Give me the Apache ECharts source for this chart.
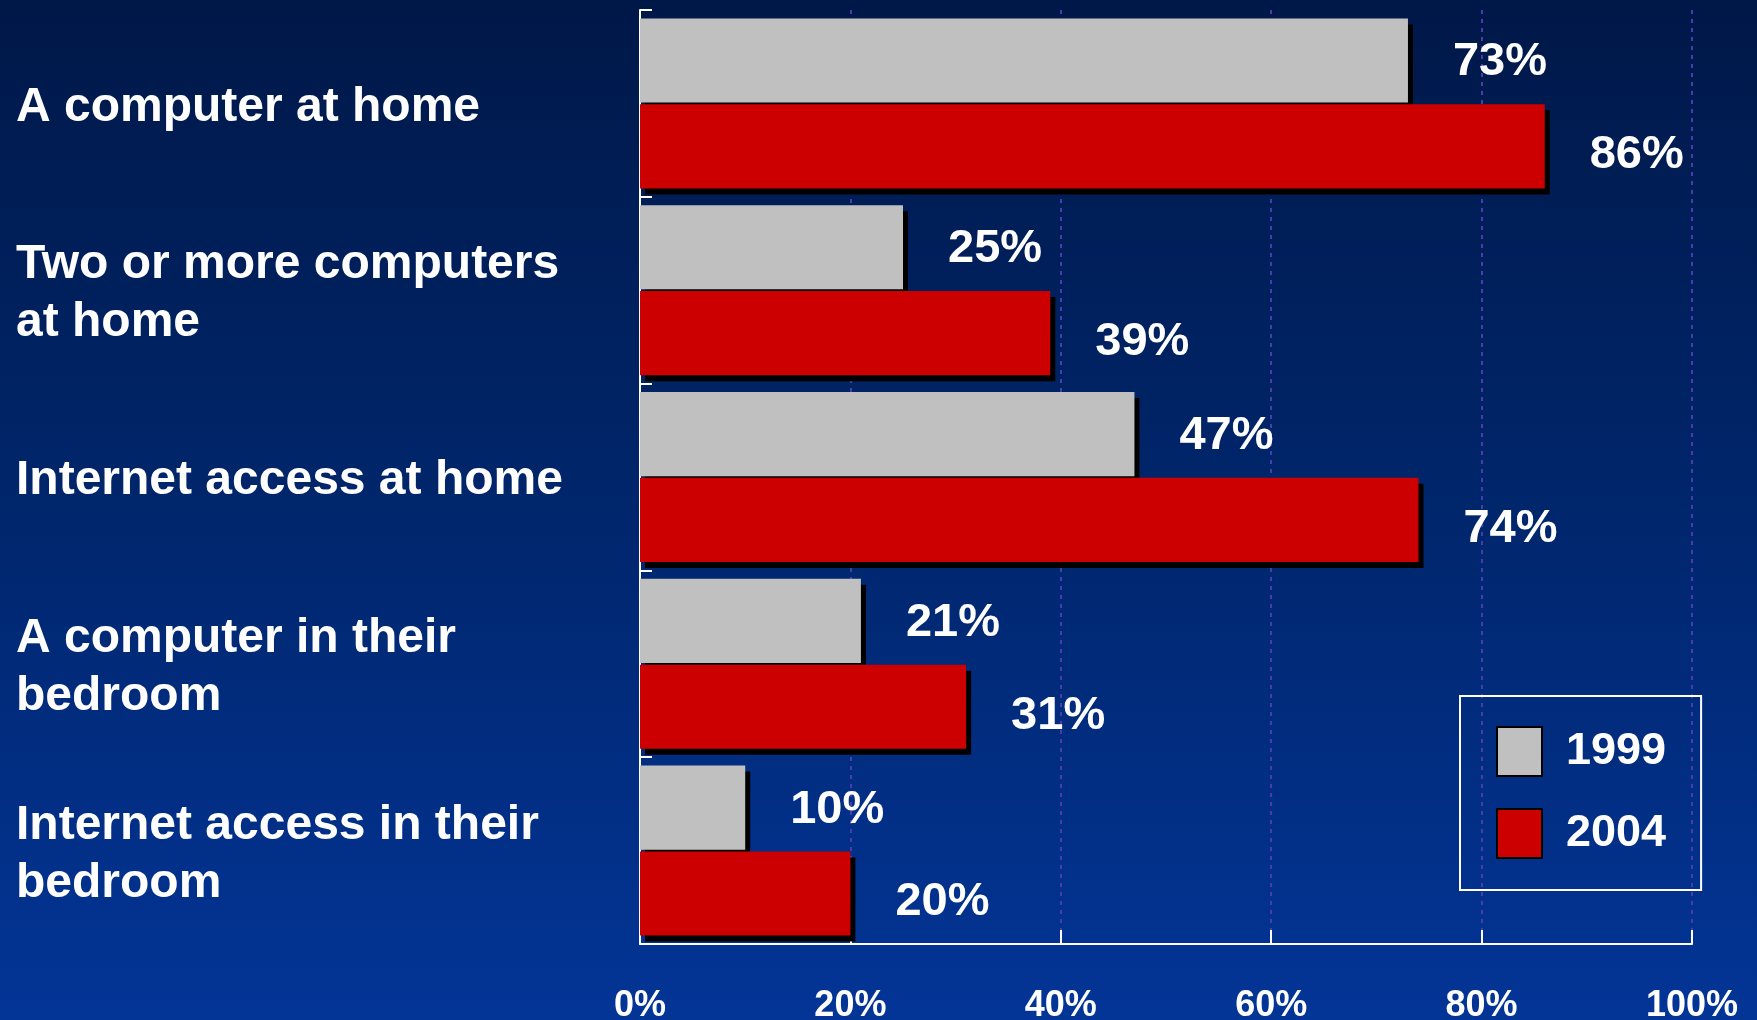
<!DOCTYPE html>
<html>
<head>
<meta charset="utf-8">
<script src="https://cdn.jsdelivr.net/npm/echarts@6/dist/echarts.min.js"></script>
<style>
  html, body { margin: 0; padding: 0; background: #001848; }
  #chart { width: 1757px; height: 1020px; }
</style>
</head>
<body>
<div id="chart"></div>
<script>
// Share of young people with access to computers and the internet
const categories = [
  'A computer at home',
  'Two or more computers\nat home',
  'Internet access at home',
  'A computer in their\nbedroom',
  'Internet access in their\nbedroom'
];
const seriesNames = ['1999', '2004'];
const values1999 = [73, 25, 47, 21, 10];
const values2004 = [86, 39, 74, 31, 20];
const xTicks = [0, 20, 40, 60, 80, 100];

const FONT = '"Liberation Sans", Arial, sans-serif';

const shadowText = {
  color: '#ffffff',
  fontFamily: FONT,
  fontWeight: 'bold',
  textShadowColor: '#000000',
  textShadowOffsetX: 2,
  textShadowOffsetY: 2,
  textShadowBlur: 0
};

const chart = echarts.init(document.getElementById('chart'));

function barSeries(name, values, color, labelOffsetY) {
  return {
    name: name,
    type: 'bar',
    data: values,
    barGap: '2%',
    barCategoryGap: '9%',
    itemStyle: {
      color: color,
      borderWidth: 0,
      shadowColor: '#000000',
      shadowBlur: 0,
      shadowOffsetX: 5,
      shadowOffsetY: 6
    },
    label: Object.assign({
      show: true,
      position: 'right',
      distance: 45,
      offset: [0, labelOffsetY],
      fontSize: 47,
      formatter: '{c}%'
    }, shadowText),
    emphasis: { disabled: true }
  };
}

chart.setOption({
  animation: false,
  backgroundColor: new echarts.graphic.LinearGradient(0, 0, 0, 1, [
    { offset: 0, color: '#001848' },
    { offset: 0.5, color: '#00266c' },
    { offset: 1, color: '#033597' }
  ]),
  grid: [
    // plot area
    { left: 640, right: 65, top: 10, bottom: 76, containLabel: false, outerBoundsMode: 'none' },
    // category captions sit a few pixels lower than the band centres
    { left: 640, right: 65, top: 14, bottom: 72, containLabel: false, outerBoundsMode: 'none' }
  ],
  legend: {
    data: seriesNames,
    orient: 'vertical',
    left: 1460,
    top: 696,
    padding: [30, 35, 31, 36],
    borderColor: '#ffffff',
    borderWidth: 2,
    icon: 'rect',
    itemWidth: 45,
    itemHeight: 49,
    itemGap: 31,
    selectedMode: false,
    itemStyle: {
      borderColor: '#000000',
      borderWidth: 2,
      shadowColor: 'rgba(0,0,0,0)',
      shadowBlur: 0,
      shadowOffsetX: 0,
      shadowOffsetY: 0
    },
    textStyle: Object.assign({
      fontSize: 45,
      padding: [0, 0, 0, 19]
    }, shadowText)
  },
  xAxis: [
    {
      type: 'value',
      gridIndex: 0,
      min: xTicks[0],
      max: xTicks[xTicks.length - 1],
      interval: xTicks[1] - xTicks[0],
      axisLine: { show: true, lineStyle: { color: '#ffffff', width: 2 } },
      axisTick: { show: true, inside: true, length: 14, lineStyle: { color: '#ffffff', width: 2 } },
      axisLabel: {
        color: '#ffffff',
        fontFamily: FONT,
        fontWeight: 'bold',
        fontSize: 36,
        margin: 44,
        formatter: '{value}%'
      },
      splitLine: {
        show: true,
        lineStyle: { color: '#4a3cb0', width: 2, type: [4, 5] }
      }
    },
    {
      type: 'value',
      gridIndex: 1,
      min: xTicks[0],
      max: xTicks[xTicks.length - 1],
      show: false
    }
  ],
  yAxis: [
    {
      type: 'category',
      gridIndex: 0,
      data: categories,
      inverse: true,
      axisLine: { show: true, lineStyle: { color: '#ffffff', width: 2 } },
      axisTick: { show: true, inside: true, length: 12, lineStyle: { color: '#ffffff', width: 2 } },
      axisLabel: { show: false }
    },
    {
      type: 'category',
      gridIndex: 1,
      data: categories,
      inverse: true,
      axisLine: { show: false },
      axisTick: { show: false },
      splitLine: { show: false },
      axisLabel: Object.assign({
        fontSize: 48,
        lineHeight: 58,
        align: 'left',
        margin: 624
      }, shadowText)
    }
  ],
  series: [
    barSeries(seriesNames[0], values1999, '#c0c0c0', 2),
    barSeries(seriesNames[1], values2004, '#cc0000', 9)
  ]
});
</script>
</body>
</html>
